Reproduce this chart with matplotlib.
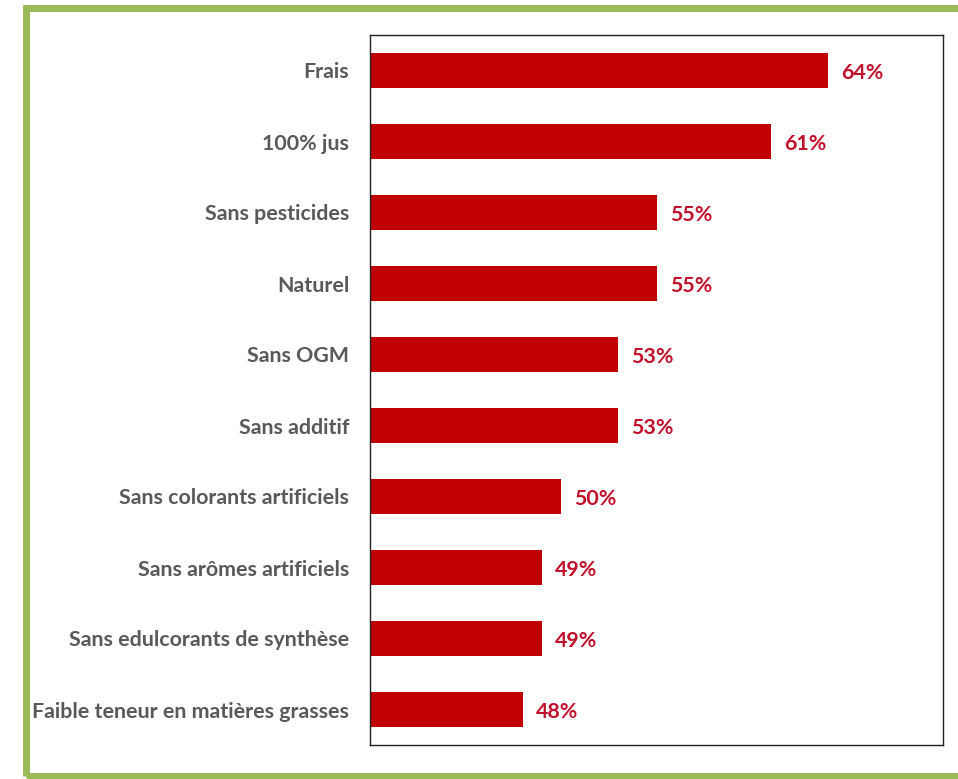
import matplotlib
matplotlib.use("Agg")
import matplotlib.pyplot as plt
from matplotlib.patches import Rectangle

categories = ["Frais", "100% jus", "Sans pesticides", "Naturel", "Sans OGM",
              "Sans additif", "Sans colorants artificiels", "Sans arômes artificiels",
              "Sans edulcorants de synthèse", "Faible teneur en matières grasses"]
values = [64, 61, 55, 55, 53, 53, 50, 49, 49, 48]
value_labels = ["64%", "61%", "55%", "55%", "53%", "53%", "50%", "49%", "49%", "48%"]

W, H = 958, 779
fig = plt.figure(figsize=(W / 100, H / 100), dpi=100)
fig.patch.set_facecolor("white")

# green frame
fig.patches.append(Rectangle((26 / W, 1 - 776 / H), (W + 20) / W, (776 - 8) / H,
                             transform=fig.transFigure, fill=False,
                             edgecolor="#9BBB59", linewidth=5, zorder=0))

ax = fig.add_axes([370 / W, 1 - 745 / H, (943 - 370) / W, (745 - 35) / H])
ypos = list(range(len(categories)))
ax.barh(ypos, values, height=0.5, color="#C00000", left=0)
ax.set_xlim(40, 70)
ax.set_ylim(len(categories) - 0.5, -0.5)
ax.set_xticks([])
ax.set_yticks(ypos)
ax.set_yticklabels(categories, fontfamily="Lato", fontweight="bold",
                   fontsize=15.4, color="#595959")
ax.tick_params(axis="y", length=0, pad=15)
for s in ax.spines.values():
    s.set_linewidth(1.0)
    s.set_color("#222222")

for y, v, lab in zip(ypos, values, value_labels):
    ax.annotate(lab, (v, y), xytext=(9.5, -1.5), textcoords="offset points",
                va="center", ha="left", fontfamily="Lato", fontweight="bold",
                fontsize=15.4, color="#C0102A")

fig.savefig("out.png", dpi=100)
